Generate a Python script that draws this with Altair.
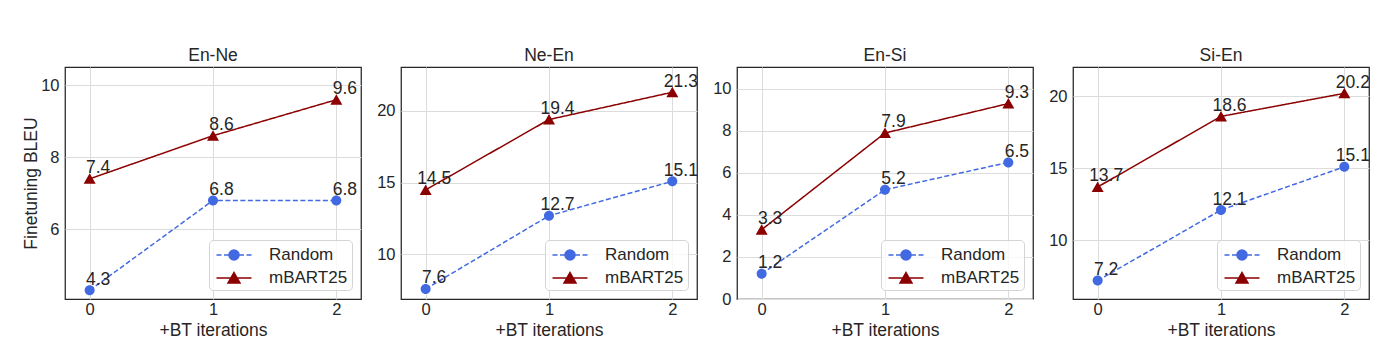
import altair as alt
import pandas as pd

# ---- data ----
pairs = ["En-Ne", "Ne-En", "En-Si", "Si-En"]
series = ["Random", "mBART25"]
iterations = [0, 1, 2]

random_en_ne = [4.3, 6.8, 6.8]
mbart_en_ne = [7.4, 8.6, 9.6]
random_ne_en = [7.6, 12.7, 15.1]
mbart_ne_en = [14.5, 19.4, 21.3]
random_en_si = [1.2, 5.2, 6.5]
mbart_en_si = [3.3, 7.9, 9.3]
random_si_en = [7.2, 12.1, 15.1]
mbart_si_en = [13.7, 18.6, 20.2]

y_domains = [[4.06, 10.51], [6.9, 23.06], [0, 11.04], [5.92, 22.03]]
y_ticks = [[6, 8, 10], [10, 15, 20], [0, 2, 4, 6, 8, 10], [10, 15, 20]]
x_ticks = [0, 1, 2]
x_domain = [-0.2, 2.2]

values = {
    "En-Ne": (random_en_ne, mbart_en_ne),
    "Ne-En": (random_ne_en, mbart_ne_en),
    "En-Si": (random_en_si, mbart_en_si),
    "Si-En": (random_si_en, mbart_si_en),
}

# ---- style ----
FONT = "Liberation Sans"
TEXT = "#262626"
FS = 17.5
FS_TICK = 16.5
colors = ["#4169e1", "#8b0000"]
dashes = [[5, 2.5], [1, 0]]
# marker glyphs (custom symbol paths, unit = sqrt(size)/2 px). The horizontal
# line pieces only show where the symbol is stroked (the legend).
rand_glyph = ("M-1.75,0L-1.25,0M-1,0L-0.5,0M0.5,0L1,0M1.25,0L1.75,0"
              "M-0.5,0A0.5,0.5,0,1,0,0.5,0A0.5,0.5,0,1,0,-0.5,0Z")
mbart_glyph = "M-1.75,0L1.75,0M0,-0.55L0.6,0.5L-0.6,0.5Z"
glyphs = [rand_glyph, mbart_glyph]


def panel(i):
    pair = pairs[i]
    r, m = values[pair]
    df = pd.DataFrame({
        "iter": iterations * 2,
        "bleu": r + m,
        "series": [series[0]] * len(r) + [series[1]] * len(m),
    })
    base = alt.Chart(df)
    x = alt.X("iter:Q",
              scale=alt.Scale(domain=x_domain, nice=False, zero=False),
              axis=alt.Axis(values=x_ticks, format="d", labelPadding=2,
                            titlePadding=4),
              title="+BT iterations")
    yaxis = alt.Axis(values=y_ticks[i], labelPadding=6, titlePadding=0)
    if i == 0:
        y = alt.Y("bleu:Q", scale=alt.Scale(domain=y_domains[i], nice=False, zero=False),
                  axis=yaxis, title="Finetuning BLEU")
    else:
        y = alt.Y("bleu:Q", scale=alt.Scale(domain=y_domains[i], nice=False, zero=False),
                  axis=yaxis, title=None)

    # lines and markers: one layer per series with constant styles
    layers = []
    for k, s in enumerate(series):
        sub = base.transform_filter(alt.datum.series == s)
        layers.append(sub.mark_line(strokeWidth=1.5, color=colors[k],
                                    strokeDash=dashes[k]).encode(x=x, y=y))
    for k, s in enumerate(series):
        sub = base.transform_filter(alt.datum.series == s)
        layers.append(sub.mark_point(filled=True, opacity=1, size=400, shape=glyphs[k],
                                     color=colors[k]).encode(x=x, y=y))

    # legend-only layer (draws nothing, its scales give the legend)
    leg = alt.Legend(title=None, orient="bottom-right", offset=9,
                     fillColor="rgba(255,255,255,0.8)", strokeColor="#d4d4d4",
                     cornerRadius=4, padding=4, labelFontSize=17, labelColor=TEXT,
                     labelFont=FONT, symbolSize=400, symbolStrokeWidth=1.5,
                     symbolOffset=10, labelOffset=24, rowPadding=4, symbolOpacity=1)
    legend_layer = base.transform_filter("false").mark_point(
        filled=True, opacity=1, size=400, strokeWidth=1.5).encode(
        x=x, y=y,
        fill=alt.Fill("series:N", scale=alt.Scale(domain=series, range=colors), legend=leg),
        stroke=alt.Stroke("series:N", scale=alt.Scale(domain=series, range=colors), legend=leg),
        shape=alt.Shape("series:N", scale=alt.Scale(domain=series, range=glyphs), legend=leg),
    )
    txt = base.mark_text(align="center", baseline="alphabetic", dx=8.5, dy=-5.5,
                         fontSize=FS, font=FONT, color=TEXT).encode(
        x=x, y=y, text=alt.Text("bleu:Q", format=".1f"))

    return alt.layer(*layers, legend_layer, txt).properties(
        width=296, height=232, title=alt.TitleParams(pair, offset=3))


chart = alt.hconcat(*[panel(i) for i in range(4)], spacing=40, bounds="flush").resolve_scale(
    x="independent", y="independent", fill="independent", stroke="independent",
    shape="independent",
).resolve_legend(
    fill="independent", stroke="independent", shape="independent"
).properties(
    padding={"left": 14, "top": 37, "right": 5, "bottom": 5}
).configure_view(
    stroke=TEXT, strokeWidth=1.25
).configure_axis(
    grid=True, gridColor="#dcdcdc", gridWidth=1, domain=False, ticks=False,
    labelFontSize=FS_TICK, labelColor=TEXT, labelFont=FONT,
    titleFontSize=FS, titleFontWeight="normal", titleColor=TEXT, titleFont=FONT,
).configure_title(
    fontSize=FS, fontWeight="normal", color=TEXT, font=FONT
)

chart.save("out.html", embed_options={"renderer": "svg", "actions": False})
